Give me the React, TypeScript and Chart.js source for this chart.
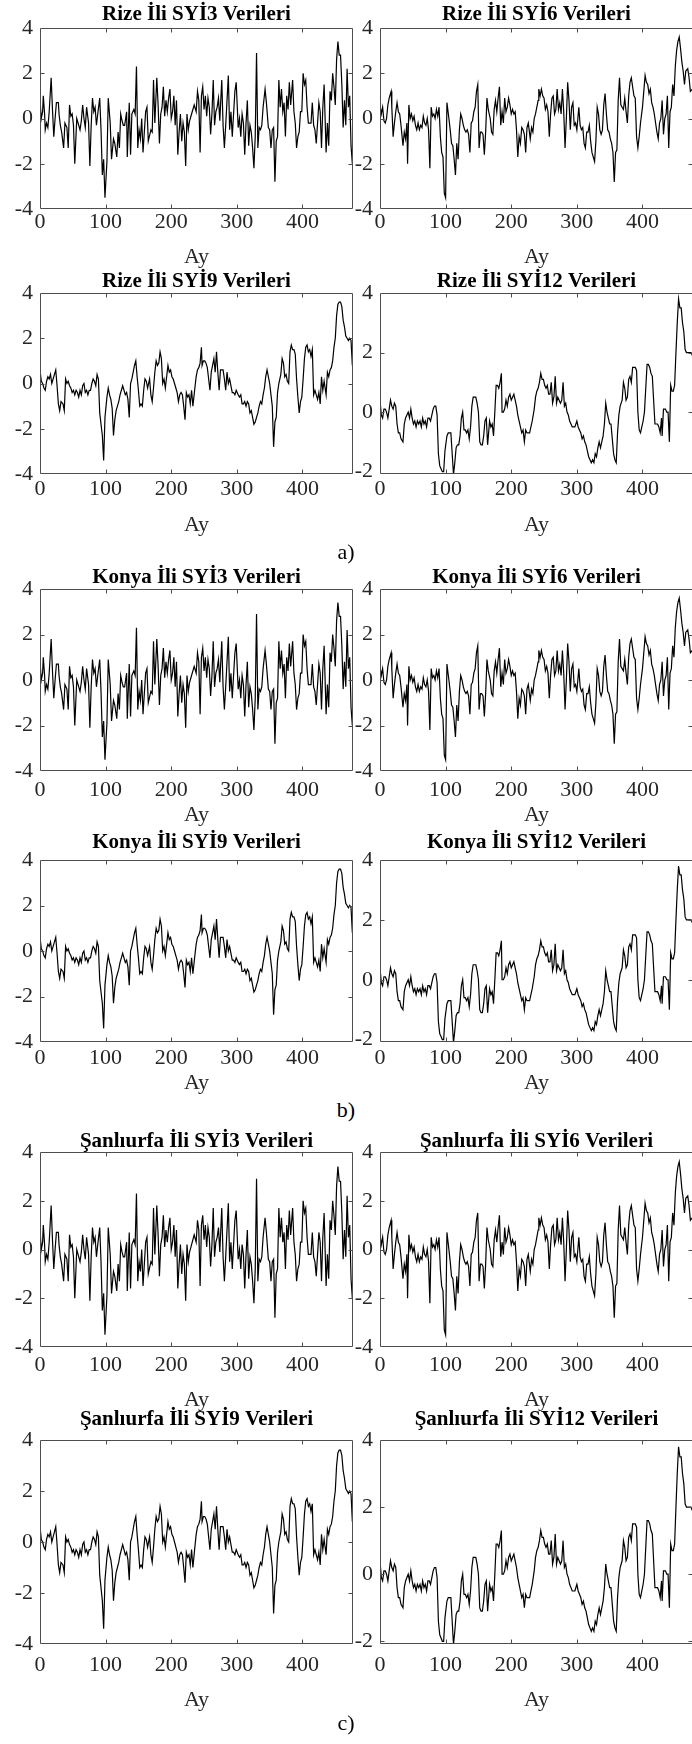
import React, { useEffect, useRef } from "react";
import { Chart, registerables } from "chart.js";

Chart.register(...registerables);

// ---- data -----------------------------------------------------------------
// Each series is a list of [month, index value] samples.

const AY_MAX = 477;
const X_TICKS = [0, 100, 200, 300, 400];
const Y_TICKS = [-4, -2, 0, 2, 4];
const Y_TICKS_12 = [-2, 0, 2, 4];
const Y_MAX = 4;
const Y_MIN = -4;
const Y_MIN_12 = -2.08;

const PROVINCES = ["Rize", "Konya", "Şanlıurfa"];
const GROUP_LABELS = ["a)", "b)", "c)"];
const SCALES = ["3", "6", "9", "12"];

const SYI3: [number, number][] = [
  [0, 0.8], [2, 0.0], [4, 0.3], [5, 1.0], [7, 0.2], [8, -0.5], [10, -0.2], [12, -0.4], [14, 0.3], [17, 1.8],
  [19, 0.4], [21, -0.8], [23, 0.0], [25, 0.7], [28, 0.7], [29, 0.2], [31, -0.3], [33, -0.6], [36, -1.3], [38, -0.2],
  [41, -0.4], [43, -1.3], [45, 0.6], [47, 0.1], [49, 0.2], [51, -0.3], [53, -2.0], [56, 0.0], [58, -0.2], [61, -0.5],
  [63, -0.1], [65, 0.6], [67, 0.0], [69, -0.4], [71, 0.5], [74, -0.2], [76, -2.1], [78, -0.3], [80, 0.9], [82, 0.3],
  [84, 0.5], [86, -0.3], [88, 0.2], [91, 0.9], [93, -0.5], [95, -2.5], [97, -1.8], [99, -3.5], [102, -1.9], [104, 0.9],
  [107, -0.2], [109, -1.8], [112, -0.9], [114, -1.1], [117, -1.7], [119, -0.6], [121, -1.3], [123, 0.2], [125, -0.1], [127, -0.3],
  [129, -0.3], [132, 0.3], [133, -1.7], [136, 0.7], [138, -1.6], [140, 0.2], [143, 0.4], [145, 0.2], [147, 2.3], [149, -1.3],
  [151, -0.5], [153, -0.9], [155, 0.0], [157, -1.5], [159, -0.6], [161, 0.3], [163, 0.5], [165, -1.0], [169, -0.5], [171, -0.6],
  [173, 1.7], [175, -0.2], [178, 1.8], [180, 0.6], [182, -1.1], [184, 0.2], [186, 0.5], [188, 1.4], [190, 0.1], [192, 0.8],
  [194, 0.3], [196, 0.9], [198, 1.3], [200, 0.0], [202, 0.3], [204, 1.0], [206, -0.3], [208, 0.8], [210, -1.6], [212, -0.6],
  [214, 0.2], [216, -1.0], [218, -0.2], [220, -0.6], [222, -2.1], [224, 0.2], [226, -0.5], [228, -0.1], [230, 0.1], [232, 0.3],
  [235, 0.6], [238, 0.3], [240, 1.2], [242, 0.8], [244, -1.5], [246, 1.0], [248, 1.4], [250, 0.4], [252, 1.0], [254, 0.1],
  [256, 0.9], [258, 0.5], [260, -0.7], [262, 0.2], [264, 1.7], [266, -0.3], [268, 0.3], [270, 0.5], [272, 0.9], [274, -0.1],
  [277, 1.7], [279, -0.3], [281, -1.3], [283, -0.3], [285, 0.8], [287, 1.9], [289, -0.5], [291, 0.3], [293, -0.8], [295, 0.2],
  [297, 1.2], [299, 1.6], [302, -0.4], [304, 0.0], [306, -0.8], [308, 0.2], [310, -0.2], [312, -1.6], [314, -0.2], [316, 0.8],
  [318, -1.2], [320, -0.3], [322, -0.6], [324, -1.3], [326, -2.2], [328, -0.8], [330, 2.9], [332, -1.3], [334, -0.4], [336, -0.5],
  [338, -0.3], [340, 0.5], [343, 1.3], [345, 0.7], [348, -0.4], [350, -0.5], [352, -1.3], [354, -0.5], [356, -0.4], [358, -2.8],
  [360, -1.0], [362, -0.8], [364, 1.7], [366, 0.5], [368, 1.3], [370, 0.3], [372, 0.7], [374, -0.8], [376, 1.0], [378, 0.4],
  [380, 1.6], [382, 0.6], [385, 1.7], [387, 0.3], [389, -0.2], [391, -1.3], [393, -0.8], [395, -0.6], [397, 0.3], [399, 0.3],
  [401, 2.0], [403, 1.5], [405, 1.7], [407, 0.5], [409, -0.2], [411, -0.2], [413, -0.2], [415, 0.7], [417, -0.3], [419, -0.5],
  [421, -1.1], [423, -0.2], [425, 0.7], [427, 0.3], [429, -1.3], [431, 0.5], [433, 1.5], [436, -1.5], [438, -0.2], [440, -1.2],
  [442, 1.2], [444, 0.8], [446, 2.0], [448, 1.4], [450, 0.6], [452, 2.6], [454, 3.4], [456, 2.8], [458, 2.8], [460, 1.5],
  [462, -0.4], [464, 0.8], [466, -0.3], [468, 2.2], [470, 0.5], [472, 1.0], [474, -1.2], [476, -2.0],
];

const SYI6: [number, number][] = [
  [0, 0.6], [2, 0.2], [4, 0.5], [6, -0.1], [8, -0.2], [10, 0.0], [12, 0.6], [14, 0.9], [17, 1.2], [18, 0.5],
  [20, -0.8], [22, -0.2], [24, 0.3], [26, 0.7], [28, 0.3], [30, 0.2], [32, -0.3], [35, -1.2], [37, -0.6], [39, -0.9],
  [41, -0.2], [42, -2.0], [44, 0.6], [46, 0.0], [48, 0.2], [50, -0.1], [52, 0.1], [54, -0.3], [56, -0.5], [58, -0.2],
  [60, -0.5], [62, -0.3], [64, -0.4], [66, 0.1], [68, -0.2], [70, -0.3], [72, 0.0], [74, -0.5], [76, -2.2], [78, 0.5],
  [80, 0.1], [82, 0.2], [84, 0.0], [86, 0.4], [88, 0.1], [90, 0.5], [92, -0.8], [94, -1.5], [96, -1.7], [98, -3.3],
  [100, -3.5], [102, 0.7], [105, 0.0], [107, -0.5], [109, -1.1], [111, -1.2], [113, -1.8], [115, -2.5], [117, -1.1], [119, -1.8],
  [121, -0.5], [123, 0.2], [125, 0.0], [127, -0.3], [129, -0.5], [131, -0.6], [133, -0.5], [135, -0.7], [137, -1.5], [139, -0.2],
  [141, -0.1], [143, 0.3], [145, 0.5], [147, 1.2], [149, 1.5], [151, -1.3], [153, -0.6], [155, -0.6], [157, -0.7], [159, -1.6],
  [161, -0.6], [163, 0.9], [165, 0.4], [168, 0.0], [170, -0.6], [172, -0.7], [174, 0.4], [176, 0.8], [178, 0.3], [180, 0.9],
  [182, 1.4], [184, -0.3], [186, 0.3], [188, -0.2], [190, 0.9], [192, 0.3], [194, 0.5], [196, 0.9], [198, 0.6], [200, 0.2],
  [202, 0.4], [204, 0.2], [206, 0.3], [208, -0.5], [210, -1.7], [212, -0.8], [214, -1.1], [216, -0.4], [218, -0.5], [220, -0.7],
  [222, -1.5], [224, -0.4], [226, -0.2], [229, -0.9], [231, -0.4], [233, -0.6], [235, 0.0], [237, 0.2], [239, 0.5], [241, 0.8],
  [242, 1.3], [244, 1.0], [246, 1.3], [248, 1.0], [250, 0.9], [252, 0.4], [254, 0.6], [256, 0.3], [258, -0.8], [260, 0.2],
  [262, 0.9], [264, 1.0], [266, 0.2], [268, 0.4], [270, 1.3], [272, 0.4], [274, 0.7], [276, 0.2], [278, 1.3], [280, 0.3],
  [282, -1.3], [284, 0.0], [286, 1.6], [288, 0.8], [290, -0.5], [292, 0.5], [294, 0.7], [296, -0.3], [298, -0.2], [300, -0.5],
  [303, 0.5], [305, -0.3], [307, -0.5], [309, -0.4], [311, -1.1], [313, -1.3], [315, -0.6], [317, -0.6], [319, -0.3], [321, -1.0],
  [323, -1.5], [325, -1.7], [327, -1.9], [329, -1.0], [331, 0.5], [333, 0.2], [335, -0.5], [337, -0.7], [339, -0.5], [341, 0.6],
  [343, 1.1], [345, 0.2], [347, -0.5], [349, -0.6], [351, -0.9], [353, -1.1], [355, -1.5], [357, -2.8], [359, -1.5], [361, -1.4],
  [363, 0.8], [365, 1.8], [367, 0.6], [369, 0.5], [371, 0.4], [373, 0.9], [375, 0.3], [377, -0.2], [379, 1.0], [381, 1.6],
  [383, 1.8], [385, 1.4], [387, 1.0], [389, 0.9], [391, -0.8], [393, -1.3], [395, -0.8], [397, -0.2], [400, 0.5], [402, 1.2],
  [404, 1.9], [406, 1.6], [408, 1.5], [410, 1.1], [412, 1.3], [414, 0.7], [416, 0.5], [418, 0.2], [420, -0.2], [422, -0.6],
  [424, -0.9], [426, -0.2], [428, 0.0], [430, 0.8], [432, -0.7], [434, 0.0], [436, 0.2], [438, 1.0], [440, -1.3], [442, 0.3],
  [444, 0.5], [446, 1.5], [448, 1.0], [450, 2.3], [452, 3.0], [454, 3.4], [456, 3.6], [458, 3.1], [460, 2.5], [462, 2.1],
  [464, 1.5], [466, 2.1], [469, 2.2], [471, 1.8], [473, 1.2], [476, 1.3],
];

const SYI9: [number, number][] = [
  [0, 0.6], [2, 0.1], [4, 0.0], [6, -0.2], [8, -0.3], [10, 0.1], [12, 0.3], [14, 0.2], [16, 0.4], [18, 0.0],
  [20, 0.2], [22, 0.4], [24, 0.6], [26, -0.1], [28, -0.9], [30, -1.2], [32, -0.8], [35, -0.9], [37, -1.2], [39, 0.2],
  [41, 0.0], [43, 0.1], [45, -0.1], [47, -0.2], [49, -0.4], [51, -0.3], [53, -0.5], [55, -0.3], [57, -0.4], [59, -0.6],
  [61, -0.3], [63, -0.5], [65, -0.1], [67, 0.0], [69, -0.4], [71, -0.3], [73, -0.5], [75, -0.3], [77, -0.3], [79, 0.0],
  [81, 0.2], [83, 0.1], [85, -0.1], [87, 0.4], [89, 0.2], [91, -1.3], [93, -1.8], [95, -2.3], [97, -3.4], [99, -1.5],
  [102, -0.6], [104, -0.2], [106, -0.5], [108, -0.7], [110, -1.1], [112, -2.3], [114, -1.6], [116, -1.2], [118, -1.0], [120, -0.8],
  [122, -0.5], [124, -0.3], [126, -0.1], [128, -0.3], [130, -0.5], [132, -0.4], [134, -0.7], [136, -1.5], [138, 0.0], [140, 0.2],
  [142, 0.5], [144, 0.8], [146, 1.0], [148, 0.3], [150, -0.3], [152, -1.0], [154, -0.9], [156, -1.0], [158, -0.3], [160, 0.2],
  [162, 0.1], [164, -0.2], [167, 0.2], [169, -0.5], [171, -0.8], [173, -0.2], [175, 0.5], [177, 1.0], [179, 0.8], [181, 0.9],
  [183, 1.4], [185, 1.1], [187, 0.0], [189, 0.2], [191, -0.2], [193, 0.3], [195, 0.8], [197, 0.5], [199, 0.6], [201, 0.3],
  [203, 0.2], [205, 0.0], [207, -0.2], [209, -0.4], [211, -0.8], [213, -0.5], [215, -0.4], [217, -0.5], [219, -1.0], [221, -1.6],
  [223, -0.4], [225, -0.6], [227, -0.5], [229, -0.9], [231, -0.3], [233, -1.0], [236, -0.2], [238, 0.3], [240, 0.6], [242, 0.7],
  [244, 0.9], [246, 1.6], [247, 0.8], [249, 1.0], [251, 1.0], [253, 0.9], [255, 0.7], [257, 0.2], [259, -0.3], [261, 0.5],
  [263, 0.8], [265, 1.1], [267, 0.5], [269, 1.4], [271, 0.5], [273, -0.3], [275, 0.6], [277, 0.6], [279, 0.6], [281, 0.2],
  [283, -0.3], [285, 0.5], [287, 0.0], [289, 0.2], [291, -0.1], [293, -0.4], [295, -0.4], [297, -0.5], [299, -0.3], [302, -0.5],
  [304, -0.6], [306, -0.5], [308, -0.9], [310, -0.9], [312, -0.8], [314, -1.0], [316, -0.8], [318, -0.9], [320, -1.3], [322, -1.2],
  [324, -1.5], [326, -1.8], [328, -1.7], [330, -1.5], [332, -1.3], [334, -1.0], [336, -0.8], [338, -0.9], [340, -0.5], [342, -0.2],
  [344, 0.3], [346, 0.6], [348, 0.3], [350, 0.0], [352, -0.5], [354, -1.0], [356, -2.8], [358, -1.7], [360, -1.5], [362, -0.4],
  [364, 0.0], [367, 0.4], [369, 1.1], [371, 0.9], [373, 0.3], [375, 0.4], [377, 0.1], [379, 0.0], [381, 1.4], [383, 1.7],
  [385, 1.5], [387, 1.5], [389, 1.3], [391, 0.2], [393, -0.6], [395, -1.3], [397, -0.8], [399, -0.6], [401, 0.2], [403, 1.1],
  [405, 1.6], [407, 1.7], [409, 1.4], [411, 1.5], [413, 1.2], [415, 1.5], [417, -0.5], [419, -0.3], [421, -0.5], [423, -0.7],
  [425, -0.4], [427, -0.9], [429, 0.3], [431, -0.3], [433, 0.1], [436, -0.5], [438, 0.5], [440, 0.3], [442, 0.6], [444, 0.7],
  [446, 1.0], [448, 1.6], [450, 2.0], [452, 3.0], [454, 3.5], [456, 3.6], [458, 3.6], [460, 3.4], [462, 2.8], [464, 2.5],
  [466, 2.1], [468, 2.0], [470, 1.9], [472, 2.0], [474, 1.9], [476, 0.8],
];

const SYI12: [number, number][] = [
  [0, 0.4], [2, -0.1], [4, -0.2], [6, 0.1], [8, 0.1], [10, 0.0], [12, -0.2], [14, 0.1], [16, 0.4], [18, 0.2],
  [20, 0.1], [22, 0.3], [24, 0.2], [26, -0.4], [28, -0.7], [30, -0.7], [32, -0.9], [35, -1.0], [37, -0.4], [39, -0.2],
  [41, -0.1], [43, 0.0], [45, -0.2], [47, 0.1], [49, -0.2], [51, -0.4], [53, -0.3], [55, -0.5], [57, -0.3], [59, -0.4],
  [61, -0.3], [63, -0.5], [65, -0.2], [67, -0.4], [69, -0.3], [71, -0.5], [73, -0.2], [75, -0.2], [77, -0.3], [79, -0.1],
  [81, 0.1], [83, 0.2], [85, 0.2], [87, -0.1], [89, -1.4], [91, -1.8], [93, -1.9], [95, -2.0], [97, -2.0], [99, -1.3],
  [102, -0.8], [104, -0.7], [106, -0.7], [108, -0.7], [110, -1.4], [112, -2.1], [114, -1.7], [116, -1.2], [118, -1.1], [120, -1.1],
  [122, -0.8], [124, -0.2], [126, 0.0], [128, -0.6], [130, -0.6], [132, -0.7], [134, -0.6], [136, -0.9], [138, -0.5], [140, 0.2],
  [142, 0.5], [144, 0.5], [146, 0.5], [148, 0.3], [150, 0.0], [152, -1.0], [154, -1.1], [156, -1.1], [158, -0.8], [160, -0.3],
  [162, -0.2], [164, -1.1], [167, -0.3], [169, -0.5], [171, -0.4], [173, -0.8], [175, 0.0], [177, 0.9], [179, 0.9], [181, 0.8],
  [183, 1.0], [185, 1.3], [186, 0.0], [188, 0.0], [190, 0.1], [192, 0.4], [194, 0.2], [196, 0.5], [198, 0.6], [200, 0.4],
  [202, 0.5], [204, 0.6], [206, 0.4], [208, 0.2], [210, -0.1], [212, -0.3], [214, -0.5], [216, -0.7], [218, -0.6], [220, -1.0],
  [222, -0.6], [224, -0.7], [226, -0.7], [228, -0.7], [230, -0.5], [232, -0.3], [235, 0.1], [237, 0.5], [239, 0.7], [241, 0.8],
  [243, 1.0], [245, 1.3], [247, 1.1], [249, 1.1], [251, 0.9], [253, 0.8], [255, 0.9], [257, 0.6], [259, 0.6], [261, 1.0],
  [263, 0.3], [265, 0.5], [267, 1.2], [269, 0.3], [271, 0.5], [273, 0.4], [275, 0.3], [277, 0.4], [279, 1.0], [281, 0.2],
  [283, 0.3], [285, 0.0], [287, -0.1], [289, -0.3], [291, -0.4], [293, -0.5], [295, -0.5], [297, -0.5], [300, -0.3], [302, -0.5],
  [304, -0.6], [306, -0.7], [308, -0.9], [310, -0.8], [312, -1.0], [314, -1.1], [316, -1.3], [318, -1.5], [320, -1.6], [322, -1.7],
  [324, -1.6], [326, -1.7], [328, -1.4], [330, -1.5], [332, -1.2], [334, -1.0], [336, -1.2], [338, -1.0], [340, -0.8], [342, -0.4],
  [344, 0.3], [346, 0.0], [348, -0.2], [350, -0.4], [352, -0.4], [354, -0.9], [356, -1.4], [358, -1.6], [360, -1.7], [362, -0.7],
  [364, -0.1], [366, 0.2], [369, 0.4], [371, 1.0], [373, 0.8], [375, 0.4], [377, 0.5], [379, 1.1], [381, 1.2], [383, 1.0],
  [385, 1.5], [387, 1.5], [389, 1.5], [391, 1.4], [393, 0.0], [395, -0.6], [397, -0.7], [399, -0.5], [401, -0.3], [403, 0.0],
  [405, 0.8], [407, 1.6], [409, 1.6], [411, 1.5], [413, 1.3], [415, 1.2], [417, 0.4], [419, -0.4], [421, -0.4], [423, -0.4],
  [425, -0.5], [427, -0.7], [429, -0.2], [430, -0.8], [432, 0.1], [435, 0.1], [437, 0.0], [439, 0.0], [441, -1.0], [443, 0.9],
  [445, 0.7], [447, 0.7], [449, 0.9], [451, 2.0], [453, 3.0], [455, 3.8], [457, 3.5], [459, 3.5], [461, 3.0], [463, 2.7],
  [465, 2.1], [467, 2.0], [469, 2.0], [471, 2.0], [474, 2.0], [476, 1.9],
];

// ---- layout ---------------------------------------------------------------

const SERIF = '"Liberation Serif", "Times New Roman", Times, serif';
const INK = "#262626";
const AXIS = "#4d4d4d";
const LINE = "#000000";
const BOX_LEFT = [40, 380];
const BOX_WIDTH = 313;
const Y_AXIS_W = 40;
const TICK_LEN = 4;
const TICK_FONT = 22;
const TITLE_FONT = 21;

Chart.defaults.font.family = SERIF;

// For every group: two rows of panels (plot box top, box height,
// title centre, tick-label centre, axis-title centre), and the caption line.
const ROWS = [
  [
    { top: 28, h: 181, title: 15, tick: 222, ay: 257 },
    { top: 293, h: 181, title: 282, tick: 489, ay: 525 },
  ],
  [
    { top: 589, h: 182, title: 578, tick: 790, ay: 815 },
    { top: 860, h: 182, title: 843, tick: 1058, ay: 1083 },
  ],
  [
    { top: 1152, h: 195, title: 1142, tick: 1365, ay: 1400 },
    { top: 1440, h: 204, title: 1420, tick: 1665, ay: 1700 },
  ],
];
const CAPTION_Y = [552, 1110, 1723];

// Full box with inward tick marks on all four sides.
const boxedAxes = {
  id: "boxedAxes",
  afterDraw(chart: any) {
    const { ctx, chartArea } = chart;
    const xs = chart.scales.x;
    const ys = chart.scales.y;
    const L = Math.round(chartArea.left) + 0.5;
    const R = Math.round(chartArea.right) - 0.5;
    const T = Math.round(chartArea.top) + 0.5;
    const B = Math.round(chartArea.bottom) - 0.5;
    ctx.save();
    ctx.strokeStyle = AXIS;
    ctx.lineWidth = 1;
    ctx.beginPath();
    ctx.rect(L, T, R - L, B - T);
    for (const t of xs.ticks) {
      const p = Math.round(xs.getPixelForValue(t.value)) + 0.5;
      if (p <= L + 1 || p >= R - 1) continue;
      ctx.moveTo(p, B);
      ctx.lineTo(p, B - TICK_LEN);
      ctx.moveTo(p, T);
      ctx.lineTo(p, T + TICK_LEN);
    }
    for (const t of ys.ticks) {
      const p = Math.round(ys.getPixelForValue(t.value)) + 0.5;
      if (p <= T + 1 || p >= B - 1) continue;
      ctx.moveTo(L, p);
      ctx.lineTo(L + TICK_LEN, p);
      ctx.moveTo(R, p);
      ctx.lineTo(R - TICK_LEN, p);
    }
    ctx.stroke();
    ctx.restore();
  },
};

type Row = { top: number; h: number; title: number; tick: number; ay: number };

function Panel(props: {
  boxLeft: number;
  row: Row;
  title: string;
  series: [number, number][];
  yMin: number;
  yTicks: number[];
}) {
  const { boxLeft, row, title, series, yMin, yTicks } = props;
  const ref = useRef<HTMLCanvasElement | null>(null);
  const canvasTop = row.title - 15;
  const canvasBottom = row.ay + 14;
  const boxBottom = row.top + row.h;
  const width = Y_AXIS_W + BOX_WIDTH;
  const height = canvasBottom - canvasTop;

  useEffect(() => {
    if (!ref.current) return;
    const tickFont = { family: SERIF, size: TICK_FONT, lineHeight: 1 };
    const chart = new Chart(ref.current, {
      type: "line",
      data: {
        datasets: [
          {
            data: series.map(([x, y]) => ({ x, y })),
            borderColor: LINE,
            borderWidth: 1.2,
            pointRadius: 0,
            tension: 0,
            fill: false,
          },
        ],
      },
      options: {
        responsive: false,
        animation: false,
        devicePixelRatio: 1,
        events: [],
        layout: { padding: 0 },
        plugins: {
          legend: { display: false },
          tooltip: { enabled: false },
          title: {
            display: true,
            text: title,
            fullSize: false,
            color: "#000000",
            font: { family: SERIF, size: TITLE_FONT, weight: "bold", lineHeight: 1 },
            padding: { top: 4, bottom: Math.max(0, row.top - canvasTop - TITLE_FONT - 4) },
          },
        },
        scales: {
          x: {
            type: "linear",
            bounds: "data",
            min: 0,
            max: AY_MAX,
            grid: { display: false, drawTicks: false },
            border: { display: false },
            afterBuildTicks: (s: any) => {
              s.ticks = X_TICKS.map((value) => ({ value }));
            },
            afterFit: (s: any) => {
              s.height = canvasBottom - boxBottom;
            },
            ticks: {
              color: INK,
              font: tickFont,
              padding: row.tick - boxBottom - TICK_FONT / 2,
              maxRotation: 0,
              autoSkip: false,
            },
            title: {
              display: true,
              text: "Ay",
              color: INK,
              font: tickFont,
              padding: { top: 0, bottom: canvasBottom - row.ay - TICK_FONT / 2 },
            },
          },
          y: {
            type: "linear",
            bounds: "data",
            min: yMin,
            max: Y_MAX,
            grid: { display: false, drawTicks: false },
            border: { display: false },
            afterBuildTicks: (s: any) => {
              s.ticks = yTicks.map((value) => ({ value }));
            },
            afterFit: (s: any) => {
              s.width = Y_AXIS_W;
            },
            ticks: { color: INK, font: tickFont, padding: 7, autoSkip: false },
          },
        },
      } as any,
      plugins: [boxedAxes],
    });
    return () => chart.destroy();
  }, []);

  return (
    <canvas
      ref={ref}
      width={width}
      height={height}
      style={{
        position: "absolute",
        left: boxLeft - Y_AXIS_W,
        top: canvasTop,
        width,
        height,
      }}
    />
  );
}

const SERIES_BY_SCALE: Record<string, { series: [number, number][]; yMin: number; yTicks: number[] }> = {
  "3": { series: SYI3, yMin: Y_MIN, yTicks: Y_TICKS },
  "6": { series: SYI6, yMin: Y_MIN, yTicks: Y_TICKS },
  "9": { series: SYI9, yMin: Y_MIN, yTicks: Y_TICKS },
  "12": { series: SYI12, yMin: Y_MIN_12, yTicks: Y_TICKS_12 },
};

export default function App() {
  const panels: React.ReactNode[] = [];
  PROVINCES.forEach((province, g) => {
    SCALES.forEach((scale, i) => {
      const row = ROWS[g][Math.floor(i / 2)];
      const spec = SERIES_BY_SCALE[scale];
      panels.push(
        <Panel
          key={`${province}-${scale}`}
          boxLeft={BOX_LEFT[i % 2]}
          row={row}
          title={`${province} İli SYİ${scale} Verileri`}
          series={spec.series}
          yMin={spec.yMin}
          yTicks={spec.yTicks}
        />
      );
    });
  });

  return (
    <div
      style={{
        position: "absolute",
        left: 0,
        top: 0,
        width: 692,
        height: 1744,
        overflow: "hidden",
        background: "#ffffff",
        fontFamily: SERIF,
      }}
    >
      {panels}
      {GROUP_LABELS.map((label, g) => (
        <div
          key={label}
          style={{
            position: "absolute",
            left: 0,
            width: 692,
            top: CAPTION_Y[g] - 13,
            height: 26,
            lineHeight: "26px",
            textAlign: "center",
            fontSize: 22,
            color: "#000000",
          }}
        >
          {label}
        </div>
      ))}
    </div>
  );
}
